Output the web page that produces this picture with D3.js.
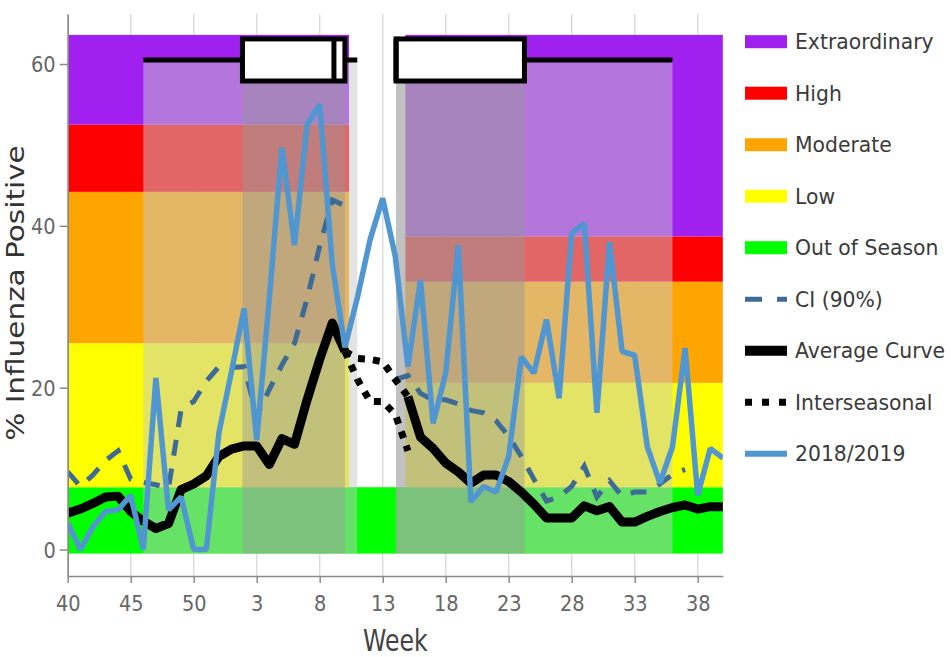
<!DOCTYPE html>
<html><head><meta charset="utf-8">
<script src="https://cdn.jsdelivr.net/npm/d3@7"></script>
<style>
body{margin:0;background:#fff;}
svg{display:block;font-family:"DejaVu Sans",Verdana,sans-serif;}
</style>
</head><body>
<svg id="chart" width="951" height="657"></svg>
<script>
// ---------- DATA ----------
const weeks = [40,41,42,43,44,45,46,47,48,49,50,51,52,1,2,3,4,5,6,7,8,9,10,11,12,13,14,15,16,17,18,19,20,21,22,23,24,25,26,27,28,29,30,31,32,33,34,35,36,37,38,39,40];
const tickIdx = [0,5,10,15,20,25,30,35,40,45,50];
const yTicks = [0,20,40,60];

const season2018 = [3.3,0,2.8,4.7,4.9,6.7,0,21.2,4.9,6.5,0,0,14.4,22,29.8,13.5,31,49.7,37.6,52.5,55,35.2,25,31.2,38.3,43.4,36.2,22.6,33.3,15.6,21.8,37.6,5.9,7.8,7.1,11.5,23.8,21.8,28.4,18.7,39.1,40.3,16.9,38,24.5,24,12.7,8.2,12.7,24.9,6.7,12.5,11.3];

const averageCurve = [4.5,5.0,5.7,6.5,6.6,4.7,3.5,2.6,3.2,7.4,8.1,9.1,11.5,12.4,12.8,12.8,10.5,13.7,13.0,18.5,23.5,28,24.5,null,null,null,null,18.9,13.9,12.5,10.7,9.6,8.2,9.2,9.2,8.4,7.1,5.6,3.9,3.9,3.9,5.4,4.8,5.3,3.4,3.4,4.1,4.7,5.2,5.5,5.0,5.3,5.3];

const ci90 = [9.6,7.8,9.2,11,12.2,8.7,8.3,8.0,7.6,17.3,18.3,20.8,22.6,22.5,22.6,16.5,19.8,22.8,25.5,31,37.5,43.2,42.5,null,null,null,21,21.5,19.3,18.5,18.5,18,17.2,16.9,15.9,14,11.5,8.7,6.0,6.5,7.8,10.3,6.5,8.5,6.6,7.1,7.1,8.1,9.3,9.9,null,null,null];

const interWeeksIdx = [22,23,24,25,26,27];
const interUpper = [24.5,23.6,23.5,23.2,21,18.9];
const interLower = [24.5,21,18.3,18.3,16.7,12.2];

// intensity thresholds (lower edge of each level, last = top)
const levelNames = ["Out of Season","Low","Moderate","High","Extraordinary"];
const levelColors = ["#00ff00","#ffff00","#ffa500","#ff0000","#a020f0"];
const thresholdsEarly = [-0.5,7.7,25.5,44.2,52.5,63.6];
const thresholdsLate  = [-0.5,7.7,20.6,33.1,38.7,63.6];
const spanEarly = [0,22.33];
const spanLate = [26.8,52];
const spanAll = [0,52];

// season box plots (week index)
const seasonWhisker = [[6.0,22.98],[26.06,48.0]];
const seasonBox = [[13.87,22.0],[26.06,36.25]];
const seasonMedian = [21.13,26.06];
const boxLevels = [57.9,60.5,63.1];

// ---------- CHART ----------
const svg = d3.select("#chart");
const x = d3.scaleLinear().domain([0,52]).range([67.7,722.9]);
const y = d3.scaleLinear().domain([-3.27,66.18]).range([576,14]);

svg.append("rect").attr("width",951).attr("height",657).attr("fill","#fff");

svg.append("defs").append("clipPath").attr("id","plotclip")
  .append("rect").attr("x",x(0)).attr("y",y(66.18)).attr("width",x(52)-x(0)).attr("height",y(-3.27)-y(66.18));

// gridlines
svg.append("g").selectAll("line").data(tickIdx).join("line")
  .attr("x1",d=>x(d)).attr("x2",d=>x(d)).attr("y1",y(66.18)).attr("y2",y(-3.27))
  .attr("stroke","#dcdcdc").attr("stroke-width",1.5);

const plot = svg.append("g").attr("clip-path","url(#plotclip)");

// bands
plot.append("rect").attr("x",x(spanAll[0])).attr("width",x(spanAll[1])-x(spanAll[0]))
  .attr("y",y(thresholdsEarly[1])).attr("height",y(thresholdsEarly[0])-y(thresholdsEarly[1]))
  .attr("fill",levelColors[0]);
[[thresholdsEarly,spanEarly],[thresholdsLate,spanLate]].forEach(([th,sp])=>{
  for(let k=1;k<5;k++){
    plot.append("rect").attr("x",x(sp[0])).attr("width",x(sp[1])-x(sp[0]))
      .attr("y",y(th[k+1])).attr("height",y(th[k])-y(th[k+1]))
      .attr("fill",levelColors[k]);
  }
});

// season overlays
seasonWhisker.forEach(w=>{
  plot.append("rect").attr("x",x(w[0])).attr("width",x(w[1])-x(w[0]))
    .attr("y",y(boxLevels[1])).attr("height",y(-0.5)-y(boxLevels[1]))
    .attr("fill","rgb(201,201,201)").attr("fill-opacity",0.51);
});
seasonBox.forEach(b=>{
  plot.append("rect").attr("x",x(b[0])).attr("width",x(b[1])-x(b[0]))
    .attr("y",y(boxLevels[0])).attr("height",y(-0.5)-y(boxLevels[0]))
    .attr("fill","rgb(150,150,150)").attr("fill-opacity",0.45);
});

// lines
const line = d3.line().defined(d=>d!=null).x((d,i)=>x(i)).y(d=>y(d));
plot.append("path").attr("d",line(ci90)).attr("fill","none")
  .attr("stroke","#3d6b96").attr("stroke-width",5).attr("stroke-dasharray","16,13");
plot.append("path").attr("d",line(averageCurve)).attr("fill","none")
  .attr("stroke","#000").attr("stroke-width",9).attr("stroke-linejoin","round");
const iline = d3.line().x((d,i)=>x(interWeeksIdx[i])).y(d=>y(d));
[interUpper,interLower].forEach(arr=>{
  plot.append("path").attr("d",iline(arr)).attr("fill","none")
    .attr("stroke","#000").attr("stroke-width",7).attr("stroke-dasharray","7,8");
});
plot.append("path").attr("d",line(season2018)).attr("fill","none")
  .attr("stroke","#5096d0").attr("stroke-width",5.5).attr("stroke-linejoin","bevel");

// box plots
const bp = svg.append("g");
seasonWhisker.forEach((w,s)=>{
  bp.append("line").attr("x1",x(w[0])).attr("x2",x(w[1])).attr("y1",y(boxLevels[1])).attr("y2",y(boxLevels[1]))
    .attr("stroke","#000").attr("stroke-width",5);
  const b = seasonBox[s];
  bp.append("rect").attr("x",x(b[0])).attr("width",x(b[1])-x(b[0]))
    .attr("y",y(boxLevels[2])).attr("height",y(boxLevels[0])-y(boxLevels[2]))
    .attr("fill","#fff").attr("stroke","#000").attr("stroke-width",5);
  bp.append("line").attr("x1",x(seasonMedian[s])).attr("x2",x(seasonMedian[s]))
    .attr("y1",y(boxLevels[0])).attr("y2",y(boxLevels[2]))
    .attr("stroke","#000").attr("stroke-width",5);
});

// axes
const xAxis = svg.append("g").attr("transform",`translate(0,${y(-3.27)})`)
  .call(d3.axisBottom(x).tickValues(tickIdx).tickFormat(i=>weeks[i]).tickSize(7).tickSizeOuter(0));
const yAxis = svg.append("g").attr("transform",`translate(${x(0)},0)`)
  .call(d3.axisLeft(y).tickValues(yTicks).tickSize(8).tickSizeOuter(0));
[xAxis,yAxis].forEach(a=>{
  a.select(".domain").attr("stroke","#8a8a8a").attr("stroke-width",1.6);
  a.selectAll(".tick line").attr("stroke","#8a8a8a").attr("stroke-width",1.5);
  a.selectAll("text").attr("font-size",22).attr("fill","#666")
    .attr("font-family","'DejaVu Sans',Verdana,sans-serif");
});
xAxis.selectAll("text").attr("y",null).attr("dy",null)
  .attr("transform","translate(0,35) scale(0.88,1)");
yAxis.selectAll("text").attr("x",null).attr("dy","0.36em")
  .attr("transform","translate(-12,0) scale(0.88,1)");

// axis titles
svg.append("text").text("Week").attr("text-anchor","middle")
  .attr("transform",`translate(${(x(0)+x(52))/2},651) scale(0.8,1)`)
  .attr("font-size",29.5).attr("fill","#444");
svg.append("text").text("% Influenza Positive").attr("text-anchor","middle")
  .attr("transform","translate(24,293) rotate(-90) scale(1,0.82)")
  .attr("font-size",29.5).attr("fill","#333");

// legend
const legendItems = [
  {name:"Extraordinary",type:"rect",color:levelColors[4]},
  {name:"High",type:"rect",color:levelColors[3]},
  {name:"Moderate",type:"rect",color:levelColors[2]},
  {name:"Low",type:"rect",color:levelColors[1]},
  {name:"Out of Season",type:"rect",color:levelColors[0]},
  {name:"CI (90%)",type:"line",color:"#3d6b96",w:5,dash:"17,15"},
  {name:"Average Curve",type:"line",color:"#000",w:10,dash:null},
  {name:"Interseasonal",type:"line",color:"#000",w:7,dash:"7,10"},
  {name:"2018/2019",type:"line",color:"#5096d0",w:6,dash:null}
];
const lg = svg.append("g");
legendItems.forEach((it,k)=>{
  const cy = 41.7 + k*51.5;
  if(it.type==="rect"){
    lg.append("rect").attr("x",745).attr("y",cy-6.5).attr("width",42).attr("height",13).attr("fill",it.color);
  } else {
    lg.append("line").attr("x1",745).attr("x2",787).attr("y1",cy).attr("y2",cy)
      .attr("stroke",it.color).attr("stroke-width",it.w).attr("stroke-dasharray",it.dash);
  }
  lg.append("text").text(it.name).attr("transform",`translate(795,${cy}) scale(0.97,1)`)
    .attr("dy","0.36em").attr("font-size",21).attr("fill","#3a3a3a");
});
</script>
</body></html>
